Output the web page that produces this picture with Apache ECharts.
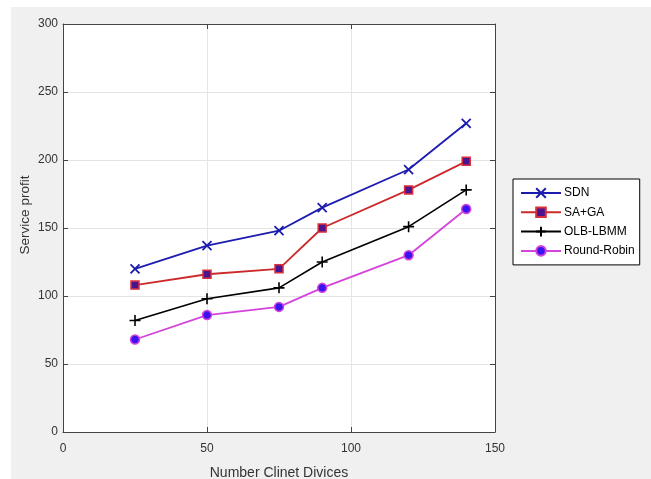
<!DOCTYPE html>
<html>
<head>
<meta charset="utf-8">
<script src="https://cdn.jsdelivr.net/npm/echarts@6/dist/echarts.min.js"></script>
<style>
  html, body { margin: 0; padding: 0; background: #fff; }
  #main { width: 651px; height: 479px; }
</style>
</head>
<body>
<div id="main"></div>
<script>
// number of client devices (x)
var devices = [25, 50, 75, 90, 120, 140]
// service profit per method
var sdn = [120, 137, 148, 165, 193, 227]
var saga = [108, 116, 120, 150, 178, 199]
var olb = [82, 98, 106, 125, 151, 178]
var roundRobin = [68, 86, 92, 106, 130, 164]

function pairs(ys) {
  return ys.map(function (y, i) { return [devices[i], y] })
}

var axisColor = '#444'
var labelStyle = { color: '#333', fontSize: 12, fontFamily: 'Liberation Sans' }

var chart = echarts.init(document.getElementById('main'))
chart.setOption({
  backgroundColor: '#f0f0f0',
  animation: false,
  textStyle: { fontFamily: 'Liberation Sans' },
  // white strips round the figure, like the screenshot
  graphic: [
    { type: 'rect', shape: { x: 0, y: 0, width: 11, height: 479 }, style: { fill: '#fff' } },
    { type: 'rect', shape: { x: 0, y: 0, width: 651, height: 7 }, style: { fill: '#fff' } }
  ],
  grid: {
    left: 63, right: 156, top: 24, bottom: 47,
    outerBoundsMode: 'none', containLabel: false,
    show: true, backgroundColor: '#fff', borderWidth: 0
  },
  legend: {
    orient: 'vertical',
    left: 513, top: 179,
    backgroundColor: '#fff',
    borderColor: '#000',
    borderWidth: 1,
    borderRadius: 0,
    padding: [8, 5, 8, 7],
    itemWidth: 40,
    itemHeight: 12,
    itemGap: 7.3,
    textStyle: { color: '#000', fontSize: 12, fontFamily: 'Liberation Sans', padding: [0, 0, 0, -2] },
    data: ['SDN', 'SA+GA', 'OLB-LBMM', 'Round-Robin']
  },
  xAxis: [
    {
      type: 'value', min: 0, max: 150, interval: 50, position: 'bottom',
      name: 'Number Clinet Divices', nameLocation: 'middle', nameGap: 34,
      nameTextStyle: { color: '#333', fontSize: 14, fontFamily: 'Liberation Sans' },
      axisLine: { show: true, onZero: false, lineStyle: { color: axisColor } },
      axisTick: { show: true, inside: true, length: 5, lineStyle: { color: axisColor } },
      axisLabel: Object.assign({ margin: 11 }, labelStyle),
      splitLine: { show: true, lineStyle: { color: '#e4e4e4' } }
    },
    {
      type: 'value', min: 0, max: 150, interval: 50, position: 'top',
      axisLine: { show: true, onZero: false, lineStyle: { color: axisColor } },
      axisTick: { show: true, inside: true, length: 5, lineStyle: { color: axisColor } },
      axisLabel: { show: false },
      splitLine: { show: false }
    }
  ],
  yAxis: [
    {
      type: 'value', min: 0, max: 300, interval: 50, position: 'left',
      name: 'Service profit', nameLocation: 'middle', nameGap: 31, nameMoveOverlap: false,
      nameTextStyle: { color: '#333', fontSize: 13.5, fontFamily: 'Liberation Sans', padding: [0, 0, 0, 26] },
      axisLine: { show: true, onZero: false, lineStyle: { color: axisColor } },
      axisTick: { show: true, inside: true, length: 5, lineStyle: { color: axisColor } },
      axisLabel: Object.assign({ margin: 5 }, labelStyle),
      splitLine: { show: true, lineStyle: { color: '#e4e4e4' } }
    },
    {
      type: 'value', min: 0, max: 300, interval: 50, position: 'right',
      axisLine: { show: true, onZero: false, lineStyle: { color: axisColor } },
      axisTick: { show: true, inside: true, length: 5, lineStyle: { color: axisColor } },
      axisLabel: { show: false },
      splitLine: { show: false }
    }
  ],
  series: [
    {
      name: 'SDN', type: 'line', data: pairs(sdn),
      symbol: 'path://M0,0L10,10M10,0L0,10', symbolSize: 9,
      lineStyle: { color: '#1c1cb0', width: 1.8 },
      itemStyle: { color: 'rgba(0,0,0,0)', borderColor: '#1c1cb0', borderWidth: 1.8 }
    },
    {
      name: 'SA+GA', type: 'line', data: pairs(saga),
      symbol: 'rect', symbolSize: 8,
      lineStyle: { color: '#cc2a2a', width: 1.8 },
      itemStyle: { color: '#4a1490', borderColor: '#d8303a', borderWidth: 1.5 }
    },
    {
      name: 'OLB-LBMM', type: 'line', data: pairs(olb),
      symbol: 'path://M5,0L5,10M0,5L10,5', symbolSize: 11,
      lineStyle: { color: '#000', width: 1.6 },
      itemStyle: { color: 'rgba(0,0,0,0)', borderColor: '#000', borderWidth: 1.6 }
    },
    {
      name: 'Round-Robin', type: 'line', data: pairs(roundRobin),
      symbol: 'circle', symbolSize: 9,
      lineStyle: { color: '#d444dc', width: 1.8 },
      itemStyle: { color: '#3a14f0', borderColor: '#d444dc', borderWidth: 1.5 }
    }
  ]
})
</script>
</body>
</html>
